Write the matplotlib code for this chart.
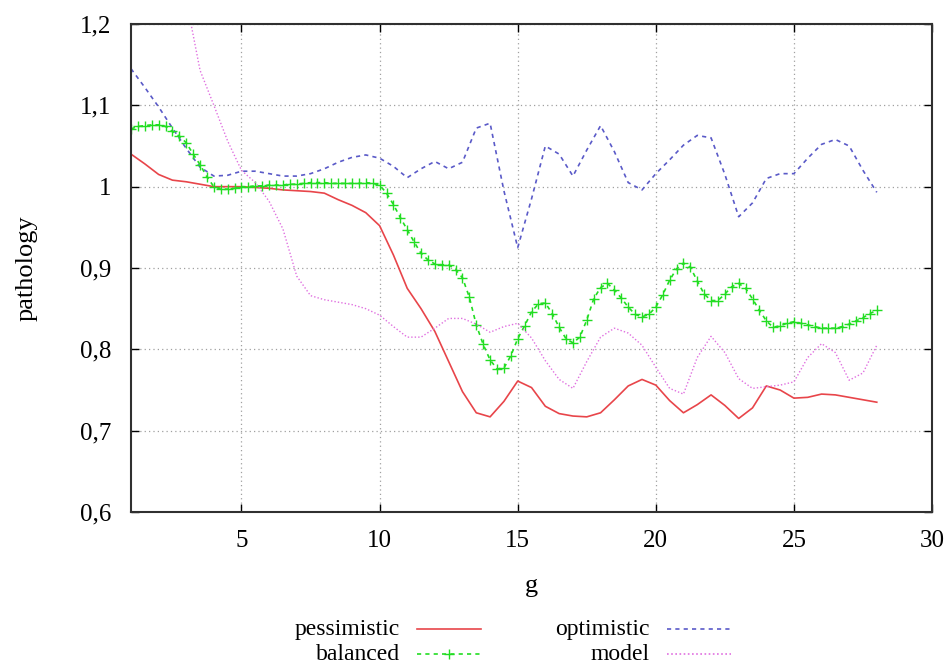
import numpy as np
import matplotlib
matplotlib.use('Agg')
import matplotlib.pyplot as plt
from matplotlib.lines import Line2D

plt.rcParams['font.family'] = ['Liberation Serif', 'DejaVu Serif']

# g values for the half-step series
g_half = [1.0, 1.5, 2.0, 2.5, 3.0, 3.5, 4.0, 4.5, 5.0, 5.5, 6.0, 6.5, 7.0, 7.5,
          8.0, 8.5, 9.0, 9.5, 10.0, 10.5, 11.0, 11.5, 12.0, 12.5, 13.0, 13.5,
          14.0, 14.5, 15.0, 15.5, 16.0, 16.5, 17.0, 17.5, 18.0, 18.5, 19.0,
          19.5, 20.0, 20.5, 21.0, 21.5, 22.0, 22.5, 23.0, 23.5, 24.0, 24.5,
          25.0, 25.5, 26.0, 26.5, 27.0, 27.5, 28.0]

pessimistic = [1.040, 1.028, 1.015, 1.008, 1.006, 1.003, 1.000, 1.000, 1.000,
               0.999, 0.998, 0.996, 0.995, 0.994, 0.992, 0.984, 0.977, 0.968,
               0.952, 0.916, 0.875, 0.850, 0.822, 0.785, 0.748, 0.722, 0.717,
               0.736, 0.761, 0.753, 0.730, 0.721, 0.718, 0.717, 0.722, 0.738,
               0.755, 0.763, 0.756, 0.737, 0.722, 0.732, 0.744, 0.731, 0.715,
               0.728, 0.755, 0.750, 0.740, 0.741, 0.745, 0.744, 0.741, 0.738,
               0.735]

optimistic = [1.145, 1.122, 1.098, 1.072, 1.047, 1.024, 1.013, 1.014, 1.019,
              1.019, 1.016, 1.013, 1.013, 1.016, 1.022, 1.030, 1.036, 1.039,
              1.035, 1.025, 1.011, 1.022, 1.031, 1.022, 1.030, 1.072, 1.078,
              0.995, 0.925, 0.985, 1.050, 1.040, 1.013, 1.045, 1.075, 1.043,
              1.005, 0.996, 1.016, 1.033, 1.051, 1.063, 1.060, 1.015, 0.963,
              0.980, 1.010, 1.016, 1.016, 1.035, 1.052, 1.058, 1.050, 1.020,
              0.993]

g_model = g_half[4:]
model = [1.230, 1.143, 1.100, 1.056, 1.020, 1.005, 0.982, 0.948, 0.890, 0.866,
         0.861, 0.858, 0.855, 0.850, 0.842, 0.828, 0.815, 0.815, 0.826, 0.838,
         0.838, 0.831, 0.821, 0.828, 0.832, 0.814, 0.786, 0.763, 0.752, 0.785,
         0.815, 0.826, 0.820, 0.805, 0.778, 0.752, 0.745, 0.790, 0.816, 0.796,
         0.764, 0.752, 0.754, 0.756, 0.760, 0.790, 0.807, 0.796, 0.762, 0.771,
         0.805]

g_quarter = [1 + 0.25 * i for i in range(109)]
balanced = [1.071, 1.074, 1.075, 1.076, 1.076, 1.074, 1.068, 1.062, 1.054,
            1.040, 1.027, 1.012, 1.000, 0.997, 0.997, 0.998, 1.000, 1.000,
            1.001, 1.001, 1.002, 1.002, 1.002, 1.003, 1.003, 1.004, 1.005,
            1.005, 1.005, 1.004, 1.004, 1.004, 1.004, 1.004, 1.005, 1.004,
            1.002, 0.992, 0.978, 0.962, 0.947, 0.932, 0.918, 0.910, 0.905,
            0.904, 0.904, 0.898, 0.888, 0.864, 0.830, 0.806, 0.787, 0.776,
            0.777, 0.792, 0.813, 0.829, 0.846, 0.856, 0.857, 0.844, 0.827,
            0.813, 0.808, 0.815, 0.836, 0.862, 0.876, 0.881, 0.873, 0.863,
            0.852, 0.843, 0.840, 0.843, 0.852, 0.867, 0.885, 0.899, 0.906,
            0.901, 0.884, 0.868, 0.860, 0.860, 0.868, 0.877, 0.881, 0.875,
            0.862, 0.848, 0.835, 0.827, 0.829, 0.832, 0.834, 0.832, 0.830,
            0.828, 0.826, 0.826, 0.826, 0.828, 0.831, 0.835, 0.839, 0.844,
            0.848]

x_ticks = [5, 10, 15, 20, 25, 30]
y_ticks = [0.6, 0.7, 0.8, 0.9, 1.0, 1.1, 1.2]
y_tick_labels = ['0,6', '0,7', '0,8', '0,9', '1', '1,1', '1,2']

c_pess = '#e8454a'
c_opt = '#5a5ac8'
c_bal = '#22dd22'
c_mod = '#e070e0'

fig = plt.figure(figsize=(9.5, 6.66), dpi=100)
ax = fig.add_axes([0.1379, 0.2312, 0.8432, 0.7328])

ax.plot(g_half, pessimistic, color=c_pess, lw=1.2, ls='-')
ax.plot(g_half, optimistic, color=c_opt, lw=1.2, ls=(0, (2.5, 2.5)))
ax.plot(g_quarter, balanced, color=c_bal, lw=1.2, ls=(0, (2.5, 2.5)),
        marker='+', ms=7, mew=1.0)
ax.plot(g_model, model, color=c_mod, lw=1.0, ls=(0, (1, 1.5)))

ax.set_xlim(1, 30)
ax.set_ylim(0.6, 1.2)
ax.set_xticks(x_ticks)
ax.set_yticks(y_ticks)
ax.set_yticklabels(y_tick_labels)
ax.grid(True, color='#a0a0a0', ls=(0, (1, 2.5)), lw=0.9)
ax.tick_params(direction='in', top=True, right=True, length=6, width=1,
               labelsize=18)
ax.tick_params(axis='x', pad=13)
ax.tick_params(axis='y', pad=14)
for s in ax.spines.values():
    s.set_linewidth(1.5)
    s.set_color('#303030')

ax.set_xlabel('g', fontsize=19)
ax.xaxis.set_label_coords(0.5, -0.13)
ax.set_ylabel('pathology', fontsize=19)
ax.yaxis.set_label_coords(-0.117, 0.5)

# legend, gnuplot-style: right-aligned text then line sample
leg_items = [('pessimistic', c_pess, '-', None, 0.421, 0.055),
             ('balanced', c_bal, (0, (2.5, 2.5)), '+', 0.421, 0.018),
             ('optimistic', c_opt, (0, (2.5, 2.5)), None, 0.684, 0.055),
             ('model', c_mod, (0, (1, 1.5)), None, 0.684, 0.018)]
for label, col, ls, mk, xr, yy in leg_items:
    fig.text(xr, yy, label, ha='right', va='center', fontsize=17)
    fig.add_artist(Line2D([xr + 0.018, xr + 0.085], [yy, yy],
                          transform=fig.transFigure, color=col, ls=ls, lw=1.2))
    if mk:
        fig.add_artist(Line2D([xr + 0.0515], [yy], transform=fig.transFigure,
                              color=col, marker=mk, ms=7, mew=1.0))

fig.savefig('out.png', dpi=100)
